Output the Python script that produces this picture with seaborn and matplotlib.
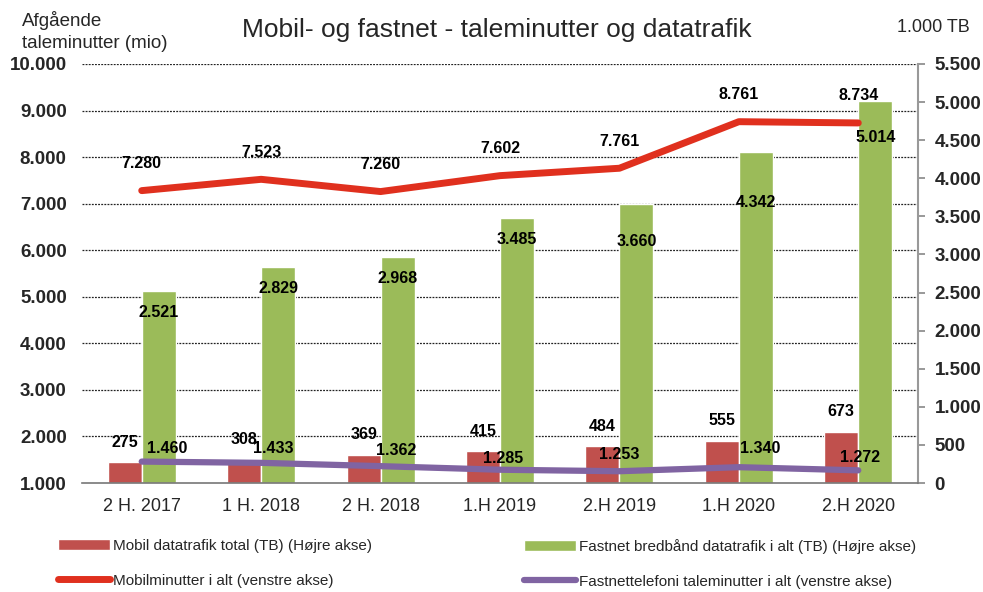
import numpy as np
import pandas as pd
import matplotlib
matplotlib.use("Agg")
import matplotlib.pyplot as plt
import matplotlib.transforms as mtransforms
from matplotlib.patches import Patch
from matplotlib.lines import Line2D
import seaborn as sns

sns.set_style("white")
plt.rcParams["font.family"] = ["Liberation Sans", "DejaVu Sans"]

# data
periods = ["2 H. 2017", "1 H. 2018", "2 H. 2018", "1.H 2019", "2.H 2019", "1.H 2020", "2.H 2020"]
mobil_data = [275, 308, 369, 415, 484, 555, 673]          # 1.000 TB, right axis
fastnet_data = [2521, 2829, 2968, 3485, 3660, 4342, 5014]  # 1.000 TB, right axis
mobil_min = [7280, 7523, 7260, 7602, 7761, 8761, 8734]     # mio minutes, left axis
fastnet_min = [1460, 1433, 1362, 1285, 1253, 1340, 1272]   # mio minutes, left axis

bar_names = ["Mobil datatrafik total (TB) (Højre akse)",
             "Fastnet bredbånd datatrafik i alt (TB) (Højre akse)"]
line_names = ["Mobilminutter i alt (venstre akse)",
              "Fastnettelefoni taleminutter i alt (venstre akse)"]

red_bar = "#C0504D"
green_bar = "#9BBB59"
red_line = "#E0301E"
purple_line = "#8064A2"


def fmt(v):
    return f"{v:,}".replace(",", ".")


bars = pd.DataFrame({
    "period": periods * 2,
    "serie": [bar_names[0]] * len(periods) + [bar_names[1]] * len(periods),
    "tb": mobil_data + fastnet_data,
})

fig = plt.figure(figsize=(9.83, 5.92), dpi=100)
ax = fig.add_axes([82 / 983, 1 - 483 / 592, (918 - 82) / 983, (483 - 64) / 592])
ax2 = ax.twinx()

# bars on the right (TB) axis, drawn underneath the lines
sns.barplot(data=bars, x="period", y="tb", hue="serie", order=periods,
            palette=[red_bar, green_bar], width=0.57, saturation=1,
            legend=False, ax=ax2, zorder=2)
ax2.set_ylim(0, 5500)
ax2.set_yticks(np.arange(0, 5501, 500))
ax2.set_yticklabels([fmt(v) for v in range(0, 5501, 500)], fontweight="bold", fontsize=13.5)
ax2.set_ylabel("")
ax2.set_xlabel("")

# gridlines follow the left axis but sit behind the bars
grid_tf = mtransforms.blended_transform_factory(ax2.transAxes, ax.transData)
for v in range(2000, 10001, 1000):
    ax2.plot([0, 1], [v, v], transform=grid_tf, color="#222222",
             lw=0.9, ls=(0, (1.5, 1.0)), zorder=0.5)

# lines on the left (minutes) axis
x = np.arange(len(periods))
sns.lineplot(x=x, y=mobil_min, ax=ax, color=red_line, lw=5, solid_capstyle="round")
sns.lineplot(x=x, y=fastnet_min, ax=ax, color=purple_line, lw=4.5, solid_capstyle="round")
ax.set_zorder(ax2.get_zorder() + 1)
ax.patch.set_visible(False)
ax.set_ylim(1000, 10000)
ax.set_yticks(np.arange(1000, 10001, 1000))
ax.set_yticklabels([fmt(v) for v in range(1000, 10001, 1000)], fontweight="bold", fontsize=13.5)
ax.set_xlim(-0.5, len(periods) - 0.5)
ax.set_xticks(x)
ax.set_xticklabels(periods, fontsize=13)
ax.tick_params(axis="y", length=0, pad=11)
ax.tick_params(axis="x", length=0, pad=11)
ax2.tick_params(axis="y", length=5, color="#888888", width=1.2, pad=7, direction="out")

for s in ["left", "right", "top"]:
    ax.spines[s].set_visible(False)
ax.spines["bottom"].set_color("#777777")
ax.spines["bottom"].set_linewidth(1.2)
for s in ["left", "top", "bottom"]:
    ax2.spines[s].set_visible(False)
ax2.spines["right"].set_color("#999999")
ax2.spines["right"].set_linewidth(1.5)

# value labels (offsets in pixels, converted to points)
px = 0.72
bw = 0.57 / 2
green_drop = [22, 21, 22, 22, 37, 50, 36]
fast_off = [(25, 13), (12, 14), (16, 16), (3, 11), (0, 17), (21, 19), (2, 13)]
lab = dict(fontsize=11.5, fontweight="bold", ha="center", va="center",
           textcoords="offset points", color="black")
for i in range(len(periods)):
    ax2.annotate(fmt(mobil_data[i]), (i - bw / 2, mobil_data[i]), xytext=(0, 20 * px), **lab)
    ax2.annotate(fmt(fastnet_data[i]), (i + bw / 2, fastnet_data[i]),
                 xytext=(0, -green_drop[i] * px), **lab)
    ax.annotate(fmt(mobil_min[i]), (i, mobil_min[i]), xytext=(0, 27 * px), **lab)
    ax.annotate(fmt(fastnet_min[i]), (i, fastnet_min[i]),
                xytext=(fast_off[i][0] * px, fast_off[i][1] * px), **lab)

fig.text(497 / 983, 1 - 30 / 592, "Mobil- og fastnet - taleminutter og datatrafik",
         ha="center", va="center", fontsize=19)
fig.text(22 / 983, 1 - 11 / 592, "Afgående\ntaleminutter (mio)", ha="left", va="top",
         fontsize=13.5, linespacing=1.4)
fig.text(970 / 983, 1 - 28 / 592, "1.000 TB", ha="right", va="center", fontsize=13)

leg_font = {"family": ["Liberation Sans Narrow", "Liberation Sans"], "size": 11}
col1 = [Patch(facecolor=red_bar), Line2D([], [], color=red_line, lw=5, solid_capstyle="round")]
col2 = [Patch(facecolor=green_bar), Line2D([], [], color=purple_line, lw=4.5, solid_capstyle="round")]
for handles, labels, x0 in [(col1, [bar_names[0], line_names[0]], 58),
                            (col2, [bar_names[1], line_names[1]], 524)]:
    leg = fig.legend(handles, labels, loc="upper left", bbox_to_anchor=(x0 / 983, 1 - 539 / 592),
                     frameon=False, prop=leg_font, handlelength=3.4, handletextpad=0.2,
                     labelspacing=1.35, borderpad=0, borderaxespad=0)

fig.savefig("out.png", dpi=100)
